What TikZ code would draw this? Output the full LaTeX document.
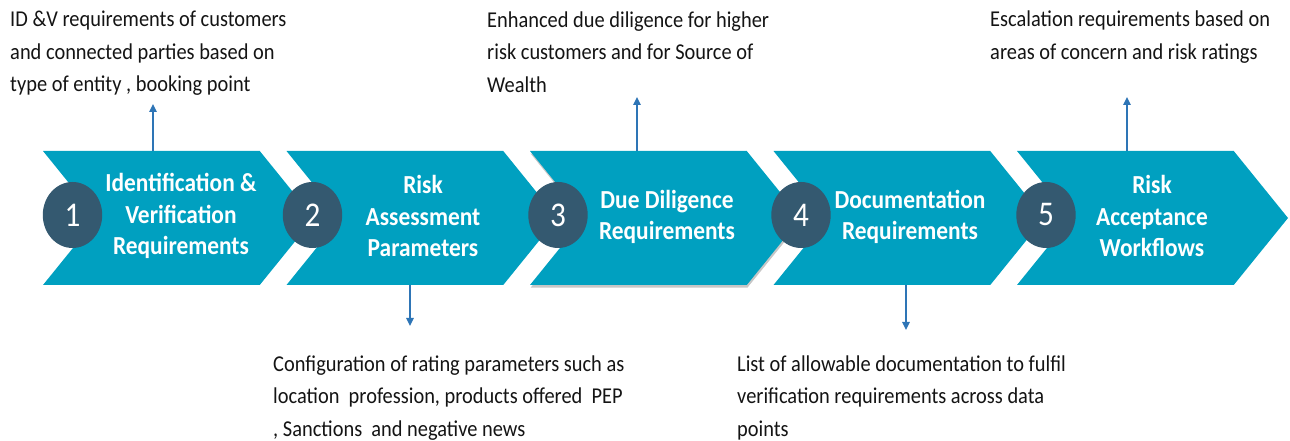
\documentclass[tikz,border=0pt]{standalone}
\usepackage{fontspec}
\setmainfont{Carlito}
\usepackage{xcolor}
\usetikzlibrary{shapes.symbols,shapes.geometric,arrows.meta,shadows}

\definecolor{stepteal}{RGB}{0,160,192}
\definecolor{stepdark}{RGB}{52,89,112}
\definecolor{arrowblue}{RGB}{46,117,182}
\definecolor{desctext}{RGB}{20,20,20}

\begin{document}
\begin{tikzpicture}[
    x=0.75pt, y=-0.75pt,
    chevron/.style={signal, signal from=west, signal to=east, signal pointer angle=102,
        fill=stepteal, draw=none, inner sep=0pt, minimum width=203.25pt, minimum height=100.5pt},
    stepnum/.style={circle, fill=stepdark, text=white, inner sep=0pt, minimum size=49.5pt,
        xscale=0.9, font=\fontsize{26}{26}\selectfont},
    steptext/.style={align=center, text=white, xscale=0.9, inner sep=0pt,
        font=\bfseries\fontsize{19.5}{23.5}\selectfont},
    desc/.style={align=left, anchor=north west, text=desctext, xscale=0.9, inner sep=0pt,
        font=\fontsize{17}{24.4}\selectfont},
    arrow/.style={-{Triangle[length=6pt,width=5.5pt]}, draw=arrowblue, line width=1.1pt}
]
    \useasboundingbox (0,0) rectangle (1290,441);

    % the five steps
    \node[chevron] (c1) at (178.5,218) {};
    \node[chevron] (c2) at (422,218) {};
    \node[chevron, drop shadow={shadow xshift=0.5pt, shadow yshift=-2pt, opacity=0.45}] (c3) at (665.5,218) {};
    \node[chevron] (c4) at (909,218) {};
    \node[chevron] (c5) at (1152.5,218) {};

    \node[stepnum] (n1) at (72.5,215) {1};
    \node[stepnum] (n2) at (312.5,215) {2};
    \node[stepnum] (n3) at (558,215) {3};
    \node[stepnum] (n4) at (801,215) {4};
    \node[stepnum] (n5) at (1046,215) {5};

    \node[steptext] (t1) at (181,216) {Identification \&\\Verification\\Requirements};
    \node[steptext] (t2) at (423,216) {Risk\\Assessment\\Parameters};
    \node[steptext] (t3) at (667,217) {Due Diligence\\Requirements};
    \node[steptext] (t4) at (910,217) {Documentation\\Requirements};
    \node[steptext] (t5) at (1152,216) {Risk\\Acceptance\\Workflows};

    % notes above and below
    \node[desc] (d1) at (10,11) {ID \&V requirements of customers\\and connected parties based on\\type of entity , booking point};
    \node[desc] (d3) at (487,11) {Enhanced due diligence for higher\\risk customers and for Source of\\Wealth};
    \node[desc] (d5) at (990,11) {Escalation requirements based on\\areas of concern and risk ratings};
    \node[desc] (d2) at (273,355) {Configuration of rating parameters such as\\location~ profession, products offered~ PEP\\, Sanctions~ and negative news};
    \node[desc] (d4) at (737,355) {List of allowable documentation to fulfil\\verification requirements across data\\points};

    \coordinate (e1) at (153,104);
    \coordinate (e2) at (410,326);
    \coordinate (e3) at (637,97);
    \coordinate (e4) at (906,330);
    \coordinate (e5) at (1127,97);

    \draw[arrow] (c1.north -| e1) -- (e1);
    \draw[arrow] (c2.south -| e2) -- (e2);
    \draw[arrow] (c3.north -| e3) -- (e3);
    \draw[arrow] (c4.south -| e4) -- (e4);
    \draw[arrow] (c5.north -| e5) -- (e5);
\end{tikzpicture}
\end{document}
